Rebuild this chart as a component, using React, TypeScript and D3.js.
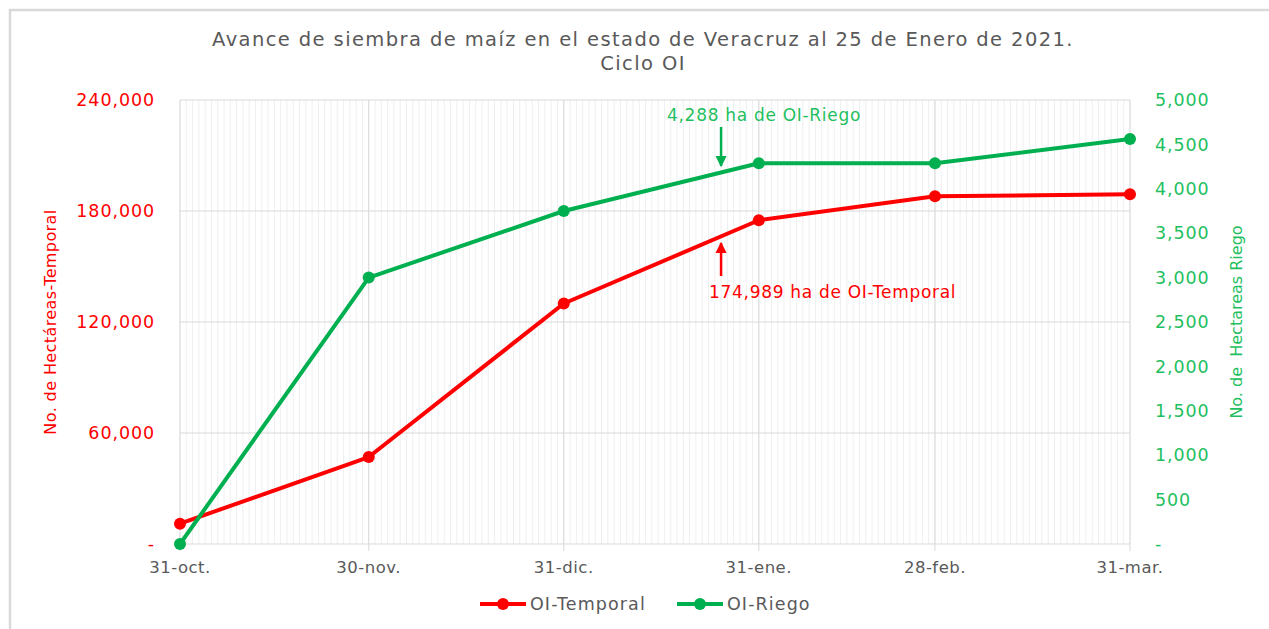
import React from "react";
import * as d3 from "d3";

const W = 1269;
const H = 629;

const dateStrings = ["2020-10-31", "2020-11-30", "2020-12-31", "2021-01-31", "2021-02-28", "2021-03-31"];
const tickLabels = ["31-oct.", "30-nov.", "31-dic.", "31-ene.", "28-feb.", "31-mar."];
const temporal = [11000, 47000, 130000, 174989, 188000, 189000];
const riego = [0, 3000, 3750, 4288, 4288, 4560];
const leftTicks = [0, 60000, 120000, 180000, 240000];
const rightTicks = [0, 500, 1000, 1500, 2000, 2500, 3000, 3500, 4000, 4500, 5000];
const noteDate = "2021-01-25";
const noteRiego = "4,288 ha de OI-Riego";
const noteTemporal = "174,989 ha de OI-Temporal";

const RED = "#ff0000";
const GREEN = "#00b050";
const GREEN_TXT = "#1fbf5f";
const GRAY_TXT = "#595959";
const FONT = "'DejaVu Sans', sans-serif";

const parse = d3.timeParse("%Y-%m-%d");

export default function App() {
  const dates = dateStrings.map((s) => parse(s) as Date);
  const margin = { left: 180, right: 139, top: 100, bottom: 85 };
  const x = d3
    .scaleTime()
    .domain([dates[0], dates[dates.length - 1]])
    .range([margin.left, W - margin.right]);
  const yL = d3.scaleLinear().domain([0, 240000]).range([H - margin.bottom, margin.top]);
  const yR = d3.scaleLinear().domain([0, 5000]).range([H - margin.bottom, margin.top]);

  const fmt = (v: number) => (v === 0 ? "-" : d3.format(",")(v));
  const days = d3.timeDay.range(dates[0], d3.timeDay.offset(dates[dates.length - 1], 1));

  const lineT = d3
    .line<number>()
    .x((_, i) => x(dates[i]))
    .y((d) => yL(d));
  const lineR = d3
    .line<number>()
    .x((_, i) => x(dates[i]))
    .y((d) => yR(d));

  const [x0, x1] = x.range();
  const [yBot, yTop] = yL.range();
  const noteX = x(parse(noteDate) as Date);

  return (
    <svg
      width={W}
      height={H}
      style={{ position: "absolute", left: 0, top: 0, background: "#fff" }}
      fontFamily={FONT}
    >
      <defs>
        <marker id="arrG" viewBox="0 0 10 10" refX="9" refY="5" markerWidth="4.5" markerHeight="4.5" orient="auto">
          <path d="M0,0 L10,5 L0,10 z" fill={GREEN} />
        </marker>
        <marker id="arrR" viewBox="0 0 10 10" refX="9" refY="5" markerWidth="4.5" markerHeight="4.5" orient="auto">
          <path d="M0,0 L10,5 L0,10 z" fill={RED} />
        </marker>
      </defs>

      {/* chart frame */}
      <path d={`M10,${H} V10 H${W}`} fill="none" stroke="#d9d9d9" strokeWidth={2.5} />

      {/* title */}
      <text x={643} y={46} textAnchor="middle" fontSize={19.5} letterSpacing={1.4} fill={GRAY_TXT}>
        Avance de siembra de maíz en el estado de Veracruz al 25 de Enero de 2021.
      </text>
      <text x={643} y={70} textAnchor="middle" fontSize={19.5} letterSpacing={1.4} fill={GRAY_TXT}>
        Ciclo OI
      </text>

      {/* minor daily gridlines */}
      {days.map((d, i) => (
        <line key={"m" + i} x1={x(d)} x2={x(d)} y1={yTop} y2={yBot} stroke="#efefef" strokeWidth={1} />
      ))}
      {/* major gridlines */}
      {dates.map((d, i) => (
        <line key={"v" + i} x1={x(d)} x2={x(d)} y1={yTop} y2={yBot + 7} stroke="#d9d9d9" strokeWidth={1} />
      ))}
      {leftTicks.map((t) => (
        <line key={"h" + t} x1={x0} x2={x1} y1={yL(t)} y2={yL(t)} stroke="#d9d9d9" strokeWidth={1} />
      ))}

      {/* left axis labels */}
      {leftTicks.map((t) => (
        <text key={"lt" + t} x={155} y={yL(t)} dy="0.35em" textAnchor="end" fontSize={17.5} letterSpacing={0.9} fill={RED}>
          {fmt(t)}
        </text>
      ))}
      {/* right axis labels */}
      {rightTicks.map((t) => (
        <text key={"rt" + t} x={1155} y={yR(t)} dy="0.35em" textAnchor="start" fontSize={17.5} letterSpacing={0.9} fill={GREEN_TXT}>
          {fmt(t)}
        </text>
      ))}
      {/* x labels */}
      {dates.map((d, i) => (
        <text key={"xt" + i} x={x(d)} y={yBot + 29} textAnchor="middle" fontSize={16.5} letterSpacing={0.5} fill={GRAY_TXT}>
          {tickLabels[i]}
        </text>
      ))}

      {/* axis titles */}
      <text
        transform={`translate(56,${(yTop + yBot) / 2}) rotate(-90)`}
        textAnchor="middle"
        fontSize={16}
        letterSpacing={0.4}
        fill={RED}
      >
        No. de Hectáreas-Temporal
      </text>
      <text
        transform={`translate(1242,${(yTop + yBot) / 2}) rotate(-90)`}
        textAnchor="middle"
        fontSize={16}
        fill={GREEN_TXT}
        style={{ whiteSpace: "pre" }}
      >
        {"No. de  Hectareas Riego"}
      </text>

      {/* series */}
      <path d={lineT(temporal) || ""} fill="none" stroke={RED} strokeWidth={4} strokeLinejoin="round" />
      {temporal.map((v, i) => (
        <circle key={"ct" + i} cx={x(dates[i])} cy={yL(v)} r={6} fill={RED} />
      ))}
      <path d={lineR(riego) || ""} fill="none" stroke={GREEN} strokeWidth={4} strokeLinejoin="round" />
      {riego.map((v, i) => (
        <circle key={"cr" + i} cx={x(dates[i])} cy={yR(v)} r={6} fill={GREEN} />
      ))}

      {/* annotations */}
      <text x={667} y={121} textAnchor="start" fontSize={17} letterSpacing={0.7} fill={GREEN_TXT}>
        {noteRiego}
      </text>
      <line x1={noteX} x2={noteX} y1={127} y2={166} stroke={GREEN} strokeWidth={2.5} markerEnd="url(#arrG)" />
      <line x1={noteX} x2={noteX} y1={276} y2={243} stroke={RED} strokeWidth={2.5} markerEnd="url(#arrR)" />
      <text x={709} y={298} textAnchor="start" fontSize={17} letterSpacing={0.7} fill={RED}>
        {noteTemporal}
      </text>

      {/* legend */}
      <g transform="translate(480,604)">
        <line x1={0} x2={46} stroke={RED} strokeWidth={4} />
        <circle cx={23} cy={0} r={6} fill={RED} />
        <text x={50} dy="0.35em" fontSize={17.5} letterSpacing={1.1} fill={GRAY_TXT}>
          OI-Temporal
        </text>
      </g>
      <g transform="translate(677,604)">
        <line x1={0} x2={46} stroke={GREEN} strokeWidth={4} />
        <circle cx={23} cy={0} r={6} fill={GREEN} />
        <text x={50} dy="0.35em" fontSize={17.5} letterSpacing={1.1} fill={GRAY_TXT}>
          OI-Riego
        </text>
      </g>
    </svg>
  );
}
